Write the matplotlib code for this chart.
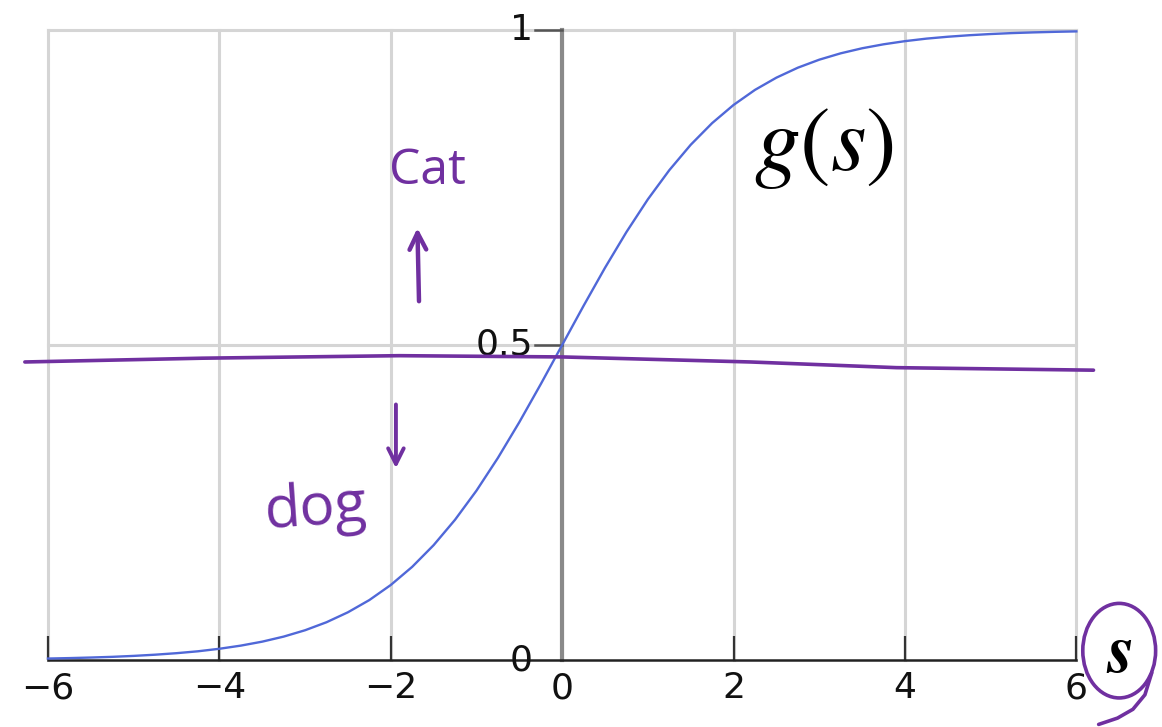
import matplotlib
matplotlib.use("Agg")
import matplotlib.pyplot as plt
from matplotlib.patches import Ellipse

plt.rcParams["mathtext.fontset"] = "stix"

# Logistic curve g(s), sampled every 0.25
s_vals = [-6.0 + 0.25 * i for i in range(49)]
g_vals = [0.0025, 0.0032, 0.0041, 0.0052, 0.0067, 0.0086, 0.0110, 0.0140,
          0.0180, 0.0230, 0.0293, 0.0373, 0.0474, 0.0601, 0.0759, 0.0953,
          0.1192, 0.1480, 0.1824, 0.2227, 0.2689, 0.3208, 0.3775, 0.4378,
          0.5000, 0.5622, 0.6225, 0.6792, 0.7311, 0.7773, 0.8176, 0.8520,
          0.8808, 0.9047, 0.9241, 0.9399, 0.9526, 0.9627, 0.9707, 0.9770,
          0.9820, 0.9860, 0.9890, 0.9914, 0.9933, 0.9948, 0.9959, 0.9968,
          0.9975]

x_ticks = [-6, -4, -2, 0, 2, 4, 6]
x_labels = ["\u22126", "\u22124", "\u22122", "0", "2", "4", "6"]
y_ticks = [0, 0.5, 1]
y_labels = ["0", "0.5", "1"]

# Hand-drawn decision threshold stroke
thr_x = [-6.27, -4.2, -1.9, 0.0, 2.2, 3.9, 6.2]
thr_y = [0.473, 0.479, 0.483, 0.481, 0.473, 0.464, 0.460]

# Tail of the loop drawn around the axis name
tail_x = [6.88, 6.80, 6.66, 6.48, 6.26]
tail_y = [-0.020, -0.055, -0.078, -0.092, -0.102]

PURPLE = "#7030a0"
GRID = "#d5d5d5"

fig = plt.figure(figsize=(11.62, 7.27), dpi=100)
ax = fig.add_axes([0.0413, 0.092, 0.885, 0.867])
ax.set_xlim(-6, 6)
ax.set_ylim(0, 1)

# Grid
for xv in x_ticks:
    ax.axvline(xv, color=GRID, lw=2.2, zorder=0, clip_on=False)
for yv in y_ticks[1:]:
    ax.axhline(yv, color=GRID, lw=2.2, zorder=0, clip_on=False)

for sp in ["top", "right", "left"]:
    ax.spines[sp].set_visible(False)
ax.spines["bottom"].set_color("#222222")
ax.spines["bottom"].set_linewidth(1.8)

# Vertical axis through s = 0
ax.plot([0, 0], [0, 1], color="#8a8a8a", lw=3.0, zorder=2, clip_on=False)

ax.set_xticks(x_ticks)
ax.set_xticklabels(x_labels, fontsize=26, color="#111111")
ax.tick_params(axis="x", direction="in", length=17, width=1.6,
               color="#333333", pad=8)
ax.set_yticks([])

# y tick marks and labels placed left of the s = 0 axis
for yv, lab in zip(y_ticks, y_labels):
    if yv > 0:
        ax.plot([-0.32, 0], [yv, yv], color="#555555", lw=1.8, zorder=2,
                clip_on=False)
    ax.text(-0.34, yv, lab, ha="right", va="center", fontsize=26,
            color="#111111", zorder=3)

# Sigmoid curve
ax.plot(s_vals, g_vals, color="#5068d8", lw=1.7, zorder=4, clip_on=False)

# Threshold stroke
ax.plot(thr_x, thr_y, color=PURPLE, lw=2.6, zorder=5, clip_on=False,
        solid_capstyle="round")

# Annotations
ax.text(3.05, 0.815, r"$g(s)$", fontsize=66, ha="center", va="center",
        color="black", zorder=6)
ax.text(-1.57, 0.775, "Cat", fontsize=36, ha="center", va="center",
        color=PURPLE, family="Open Sans", zorder=6)
ax.text(-2.87, 0.24, "dog", fontsize=42, ha="center", va="center",
        color=PURPLE, family="Open Sans", rotation=4, zorder=6)
ax.annotate("", xy=(-1.69, 0.69), xytext=(-1.67, 0.565),
            arrowprops=dict(arrowstyle="->", color=PURPLE, lw=3.2,
                            mutation_scale=30))
ax.annotate("", xy=(-1.94, 0.30), xytext=(-1.94, 0.41),
            arrowprops=dict(arrowstyle="->", color=PURPLE, lw=2.8,
                            mutation_scale=28))

# Axis name with hand-drawn loop
ax.text(6.5, 0.012, r"$\boldsymbol{s}$", fontsize=50, ha="center",
        va="center", color="black", zorder=6, clip_on=False)
ax.add_patch(Ellipse((6.5, 0.015), 0.85, 0.15, angle=0, fill=False,
                     ec=PURPLE, lw=2.6, clip_on=False, zorder=6))
ax.plot(tail_x, tail_y, color=PURPLE, lw=2.6, clip_on=False, zorder=6,
        solid_capstyle="round")

fig.savefig("out.png", dpi=100)
